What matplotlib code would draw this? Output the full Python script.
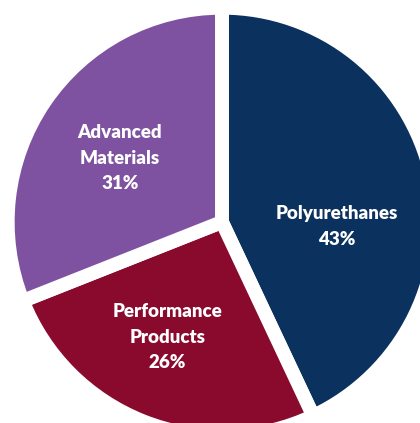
import matplotlib
matplotlib.use("Agg")
import matplotlib.pyplot as plt

# segment share of revenue
segments = ["Polyurethanes", "Performance\nProducts", "Advanced\nMaterials"]
shares = [43, 26, 31]
colors = ["#0b315f", "#8a0a2e", "#7e52a0"]

# label anchor points (data coords, pie radius = 1)
label_xy = [(0.553, -0.02), (-0.262, -0.553), (-0.49, 0.307)]

fig = plt.figure(figsize=(4.2, 4.23), dpi=100)
ax = fig.add_axes([0, 0, 1, 1])

ax.pie(
    shares,
    colors=colors,
    startangle=90,
    counterclock=False,
    radius=1.03,
    wedgeprops=dict(edgecolor="white", linewidth=10),
)

for name, val, (x, y) in zip(segments, shares, label_xy):
    ax.text(
        x, y, f"{name}\n{val}%",
        ha="center", va="center",
        color="white", fontsize=13.5, fontweight="heavy",
        family="Lato", linespacing=1.62,
    )

ax.set_xlim(-1.067, 0.952)
ax.set_ylim(-0.966, 1.067)
ax.set_aspect("auto")
ax.axis("off")

fig.savefig("out.png", dpi=100)
